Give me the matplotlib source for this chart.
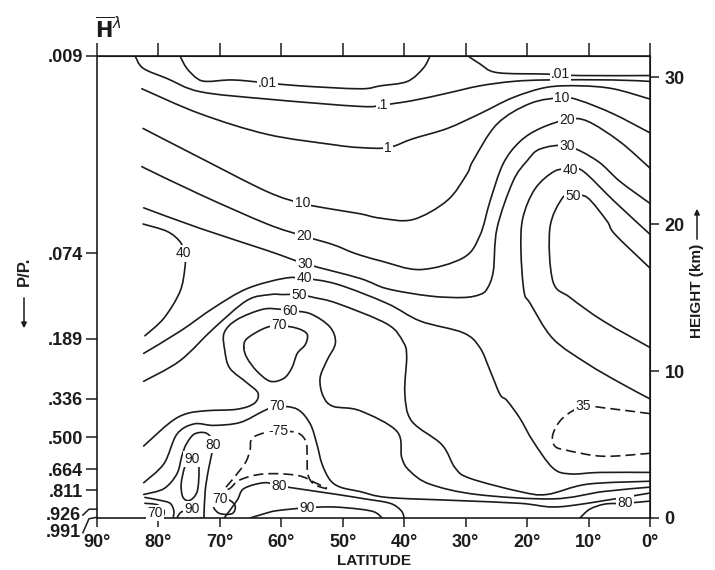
import matplotlib
matplotlib.use("Agg")
import matplotlib.pyplot as plt
from matplotlib.path import Path
from matplotlib.patches import PathPatch, FancyArrowPatch
import numpy as np

plt.rcParams['font.family'] = ['Liberation Sans', 'DejaVu Sans']
plt.rcParams['mathtext.fontset'] = 'dejavusans'

# ---------------- axes data ----------------
lat_ticks = [90, 80, 70, 60, 50, 40, 30, 20, 10, 0]
lat_labels = ['90°', '80°', '70°', '60°', '50°', '40°', '30°', '20°', '10°', '0°']
height_ticks = [0, 10, 20, 30]
height_labels = ['0', '10', '20', '30']
p_labels = ['.009', '.074', '.189', '.336', '.500', '.664', '.811']
p_heights = [31.43, 18.0, 12.2, 8.1, 5.5, 3.3, 1.9]
p_low_labels = ['.926', '.991']
p_low_heights = [0.6, 0.05]
p_low_text_heights = [0.2, -1.0]

# ---------------- isolines of relative humidity (lat, km) ----------------
rh_001_west = [(76.5, 31.43), (75.4, 30.6), (73.7, 29.9), (72.1, 29.7), (67.9, 29.8), (62.3, 29.6),
               (57.0, 29.4), (47.2, 29.2), (43.9, 29.4), (39.5, 29.7), (36.9, 30.6), (35.8, 31.43)]
rh_001_east = [(29.6, 31.43), (27.7, 30.9), (24.9, 30.3), (16.8, 30.2), (11.4, 30.1), (0, 30.1)]
rh_01 = [(83.8, 31.43), (82.5, 30.6), (78.6, 29.9), (73.2, 29.0), (62.3, 28.5), (47.2, 28.0),
         (43.5, 28.1), (38.6, 28.4), (33.0, 28.9), (27.7, 29.4), (22.3, 29.7), (16.8, 29.8),
         (6.0, 29.8), (0, 29.7)]
rh_1 = [(82.7, 29.2), (73.2, 27.5), (62.3, 26.1), (51.6, 25.4), (47.2, 25.2), (42.6, 25.2),
        (38.6, 25.8), (33.0, 26.5), (27.7, 27.5), (22.3, 28.6), (16.8, 29.3), (11.4, 29.4),
        (6.0, 29.2), (0, 28.5)]
rh_10 = [(82.5, 26.5), (73.2, 24.5), (62.3, 22.2), (56.6, 21.4), (51.6, 21.0), (47.2, 20.7),
         (43.9, 20.4), (38.6, 20.3), (33.0, 21.6), (29.8, 23.4), (28.8, 24.3), (24.9, 26.8),
         (19.5, 28.2), (14.3, 28.6), (11.4, 28.4), (6.0, 27.5), (0, 26.2)]
rh_20 = [(82.7, 23.9), (73.2, 22.0), (62.3, 20.0), (56.5, 19.2), (51.6, 18.6), (48.0, 18.0),
         (43.9, 17.5), (37.4, 16.9), (30.4, 17.7), (27.7, 19.2), (26.0, 21.6), (23.9, 24.1),
         (21.2, 25.6), (17.9, 26.5), (13.5, 27.1), (10.2, 27.0), (4.9, 25.6), (0, 23.8)]
rh_30 = [(82.4, 21.1), (73.2, 19.7), (62.3, 18.2), (56.1, 17.3), (47.2, 16.3), (42.8, 15.6),
         (35.8, 15.1), (30.4, 15.0), (27.7, 15.2), (26.5, 15.6), (25.5, 16.8), (24.9, 19.7),
         (22.3, 22.9), (20.0, 24.3), (17.9, 25.1), (13.5, 25.3), (8.6, 24.3), (4.9, 22.9), (0, 21.4)]
rh_40_bulge = [(82.5, 20.0), (78.6, 19.5), (76.5, 18.8), (75.7, 18.0), (75.7, 17.0), (76.5, 15.4),
               (79.1, 13.6), (82.2, 12.4)]
rh_40_main = [(82.4, 11.2), (76.5, 12.7), (71.0, 14.3), (65.6, 15.6), (59.6, 16.3), (56.3, 16.3),
              (50.9, 15.9), (42.8, 14.6), (37.4, 13.4), (30.4, 12.6), (27.7, 11.6), (26.0, 10.0),
              (24.4, 8.4), (23.3, 8.0), (21.2, 6.8), (19.0, 5.2), (15.8, 3.4), (13.0, 3.0),
              (8.1, 3.1), (0, 3.1)]
rh_40_tongue = [(0, 19.3), (5.7, 21.5), (10.9, 23.6), (13.0, 23.7), (15.5, 23.6), (18.7, 22.4),
                (20.7, 20.4), (21.0, 18.2), (20.5, 15.4), (19.5, 14.6), (15.8, 12.2), (10.2, 10.5),
                (4.9, 9.2), (0, 8.1)]
rh_50_tongue = [(0, 17.0), (5.7, 19.3), (7.0, 20.2), (10.2, 21.8), (12.5, 21.9), (14.2, 21.8),
                (16.3, 19.7), (15.8, 16.1), (13.0, 15.0), (7.6, 13.4), (0, 11.6)]
rh_50_main = [(82.4, 9.3), (76.5, 10.7), (71.0, 12.9), (65.6, 14.8), (61.8, 15.2), (59.7, 15.2),
              (57.1, 15.2), (54.7, 15.0), (50.9, 14.6), (42.8, 13.2), (40.2, 12.0), (39.6, 11.0),
              (39.9, 8.5), (38.8, 6.6), (33.9, 5.0), (31.7, 3.4), (29.3, 2.7),
              (21.2, 1.8), (16.8, 1.6), (10.2, 2.3), (0, 2.5)]
rh_60 = [(82.4, 4.9), (78.1, 6.5), (75.4, 7.1), (72.1, 7.3), (67.2, 7.4), (64.4, 7.8), (63.8, 8.5),
         (65.6, 9.2), (68.4, 10.2), (69.2, 11.4), (69.3, 12.6), (67.2, 13.5), (63.0, 14.2),
         (60.2, 14.2), (58.6, 14.1), (55.3, 13.9), (52.1, 13.0), (51.2, 11.9), (52.6, 10.7),
         (53.7, 9.5), (53.2, 8.3), (51.6, 7.6), (47.2, 7.3), (41.2, 5.9), (40.4, 4.1), (39.1, 3.2),
         (35.8, 2.3), (28.2, 1.6), (15.8, 1.3), (7.6, 1.8), (0, 2.1)]
rh_70_upper = [(66.1, 11.6), (65.6, 12.2), (62.8, 12.9), (60.4, 13.1), (57.4, 12.9), (55.8, 12.5),
               (56.1, 11.8), (57.4, 11.2), (58.3, 10.2), (59.6, 9.5), (61.8, 9.3), (64.0, 10.0),
               (65.6, 10.9), (66.1, 11.6)]
rh_70_lower = [(82.4, 2.4), (79.1, 3.7), (77.0, 5.7), (74.2, 6.4), (71.0, 6.3), (66.7, 6.5),
               (62.8, 7.3), (60.7, 7.6), (57.4, 7.4), (55.3, 6.4), (54.2, 5.0), (53.4, 3.7),
               (52.1, 2.6), (50.4, 2.1), (47.2, 1.8), (42.8, 1.4), (32.1, 1.2), (21.2, 1.0),
               (15.8, 0.75), (10.2, 1.0), (0, 1.7)]
rh_70_pocket = [(82.2, 1.0), (80.2, 0.9), (79.1, 0.5), (79.3, 0)]
rh_70_loop = [(70.8, 1.0), (70.0, 1.3), (68.4, 1.2), (67.5, 0.8), (68.0, 0.3), (70.0, 0.3),
              (71.0, 0.7), (70.8, 1.0)]
rh_75 = [(52.6, 2.0), (54.7, 2.3), (55.7, 3.0), (55.8, 4.2), (56.0, 5.2), (57.4, 5.8), (60.4, 5.9),
         (62.7, 5.8), (64.8, 5.4), (65.1, 4.6), (65.8, 3.8), (67.4, 2.9), (68.8, 2.2), (69.2, 2.0),
         (68.4, 2.0), (66.7, 2.6), (62.8, 3.0), (57.4, 2.9), (54.5, 2.4), (52.6, 2.0)]
rh_35 = [(0, 7.1), (7.6, 7.5), (10.9, 7.6), (14.2, 6.8), (15.8, 5.7), (15.5, 4.9), (13.5, 4.6),
         (7.6, 4.2), (0, 4.4)]
rh_80_west = [(82.4, 1.6), (79.1, 2.0), (77.0, 3.0), (76.2, 4.2), (75.5, 5.0), (74.2, 5.7),
              (72.4, 5.8), (71.3, 5.4), (71.1, 4.9), (71.3, 4.4), (71.9, 3.2), (72.4, 1.8), (72.6, 0)]
rh_80_pocket = [(82.2, 1.4), (79.7, 1.2), (78.1, 1.0), (77.5, 0.5), (77.6, 0)]
rh_80_mid = [(69.3, 0), (67.2, 1.2), (66.1, 2.0), (62.8, 2.4), (60.4, 2.2), (57.4, 2.0), (50.9, 1.6),
             (46.4, 1.3), (42.3, 1.0), (40.5, 0.5), (40.0, 0)]
rh_80_east = [(11.4, 0), (9.8, 0.6), (7.3, 0.95), (4.1, 1.0), (0, 1.15)]
rh_90_loop = [(74.9, 4.0), (75.7, 3.5), (76.3, 2.3), (76.0, 1.4), (74.9, 1.2), (73.7, 1.8),
              (73.4, 3.2), (73.7, 3.9), (74.9, 4.0)]
rh_90_sfc_west = [(77.0, 0), (76.3, 0.4), (74.9, 0.5), (73.6, 0.4), (73.1, 0)]
rh_90_sfc_mid = [(65.1, 0), (62.7, 0.3), (60.7, 0.5), (55.8, 0.7), (51.6, 0.75), (47.2, 0.6),
                 (44.8, 0.4), (43.6, 0)]

solid_lines = [rh_001_west, rh_001_east, rh_01, rh_1, rh_10, rh_20, rh_30, rh_40_bulge, rh_40_main,
               rh_40_tongue, rh_50_tongue, rh_50_main, rh_60, rh_70_upper, rh_70_lower, rh_70_pocket,
               rh_70_loop, rh_80_west, rh_80_pocket, rh_80_mid, rh_80_east, rh_90_loop,
               rh_90_sfc_west, rh_90_sfc_mid]
dashed_lines = [rh_75, rh_35]

# contour labels
label_text = ['.01', '.01', '.1', '1', '10', '10', '20', '20', '30', '30', '40', '40', '40',
              '50', '50', '60', '70', '70', '-75', '80', '80', '80', '90', '90', '90', '70', '70', '35']
label_lat = [62.3, 14.6, 43.5, 42.6, 56.6, 14.3, 56.3, 13.5, 56.1, 13.5, 76.0, 56.3, 13.0,
             57.1, 12.5, 58.6, 60.4, 60.7, 60.4, 71.1, 60.4, 4.1, 74.5, 74.5, 55.8, 80.6, 70.0, 10.9]
label_km = [29.6, 30.2, 28.1, 25.2, 21.4, 28.6, 19.2, 27.1, 17.3, 25.3, 18.0, 16.3, 23.7,
            15.2, 21.9, 14.1, 13.1, 7.6, 5.9, 5.0, 2.2, 1.0, 4.0, 0.6, 0.7, 0.35, 1.3, 7.6]


def smooth_path(pts):
    """Cubic Bezier path through the traced points (Catmull-Rom tangents)."""
    P = np.array(pts, dtype=float)
    closed = np.allclose(P[0], P[-1])
    if closed:
        P = P[:-1]
        n = len(P)
        get = lambda i: P[i % n]
        segs = n
    else:
        n = len(P)
        get = lambda i: P[min(max(i, 0), n - 1)]
        segs = n - 1
    verts = [get(0)]
    codes = [Path.MOVETO]
    for i in range(segs):
        p0, p1, p2, p3 = get(i - 1), get(i), get(i + 1), get(i + 2)
        verts += [p1 + (p2 - p0) / 6.0, p2 - (p3 - p1) / 6.0, p2]
        codes += [Path.CURVE4] * 3
    return Path(verts, codes)


# ---------------- drawing ----------------
ink = '#1c1c1c'
fig = plt.figure(figsize=(7.15, 5.70), dpi=100)
ax = fig.add_axes([97/715, 52/570, 553/715, 462/570])
ax.set_xlim(90, 0)
ax.set_ylim(0, 31.43)

for pts in solid_lines:
    ax.add_patch(PathPatch(smooth_path(pts), fill=False, ec=ink, lw=1.2, joinstyle='round',
                           capstyle='round', zorder=2))
for pts in dashed_lines:
    ax.add_patch(PathPatch(smooth_path(pts), fill=False, ec=ink, lw=1.2, ls=(0, (6, 3)),
                           zorder=2))

for t, x, y in zip(label_text, label_lat, label_km):
    ax.text(x, y, t, ha='center', va='center', fontsize=10, color=ink,
            bbox=dict(boxstyle='square,pad=0.08', fc='white', ec='none'), zorder=4)

for s in ax.spines.values():
    s.set_linewidth(1.2)
    s.set_color(ink)

ax.set_xticks(lat_ticks)
ax.set_xticklabels(lat_labels, fontsize=13, fontweight='bold')
ax.tick_params(axis='x', direction='out', length=6.5, width=1.1, pad=5, colors=ink)
ax.set_yticks(p_heights)
ax.set_yticklabels(p_labels, fontsize=13, fontweight='bold')
ax.tick_params(axis='y', direction='out', length=8, width=1.1, pad=2, colors=ink)

top = ax.secondary_xaxis('top')
top.set_xticks(lat_ticks)
top.set_xticklabels([])
top.tick_params(direction='out', length=9.5, width=1.1, colors=ink)

right = ax.secondary_yaxis('right')
right.set_yticks(height_ticks)
right.set_yticklabels(height_labels, fontsize=13, fontweight='bold')
right.tick_params(direction='out', length=6.5, width=1.1, pad=4, colors=ink)

# bent ticks for the two lowest pressure levels
for lab, h, th in zip(p_low_labels, p_low_heights, p_low_text_heights):
    ax.plot([92.3, 91.3, 90.0], [th, h + (0.0 if th > 0 else -0.1), h], color=ink, lw=1.1,
            clip_on=False)
    ax.text(92.6, th, lab, ha='right', va='center', fontsize=13, fontweight='bold',
            color=ink, clip_on=False)

ax.set_xlabel('LATITUDE', fontsize=11, fontweight='bold', labelpad=2, color=ink)

fig.text(697/715, 1 - 291/570, 'HEIGHT (km)', rotation=90, ha='center', va='center',
         fontsize=11, fontweight='bold', color=ink)
fig.add_artist(FancyArrowPatch((697/715, 1 - 242/570), (697/715, 1 - 206/570),
               transform=fig.transFigure, arrowstyle='-|>', mutation_scale=8, lw=1.1, color=ink))
fig.text(24/715, 1 - 271/570, 'P/P.', rotation=90, ha='center', va='center',
         fontsize=12, fontweight='bold', color=ink)
fig.add_artist(FancyArrowPatch((24/715, 1 - 295/570), (24/715, 1 - 331/570),
               transform=fig.transFigure, arrowstyle='-|>', mutation_scale=8, lw=1.1, color=ink))
fig.text(95/715, 1 - 38/570, r'$\overline{\mathbf{H}}^{\lambda}$', ha='left', va='baseline',
         fontsize=15, color=ink)

fig.savefig('out.png', dpi=100, facecolor='white')
